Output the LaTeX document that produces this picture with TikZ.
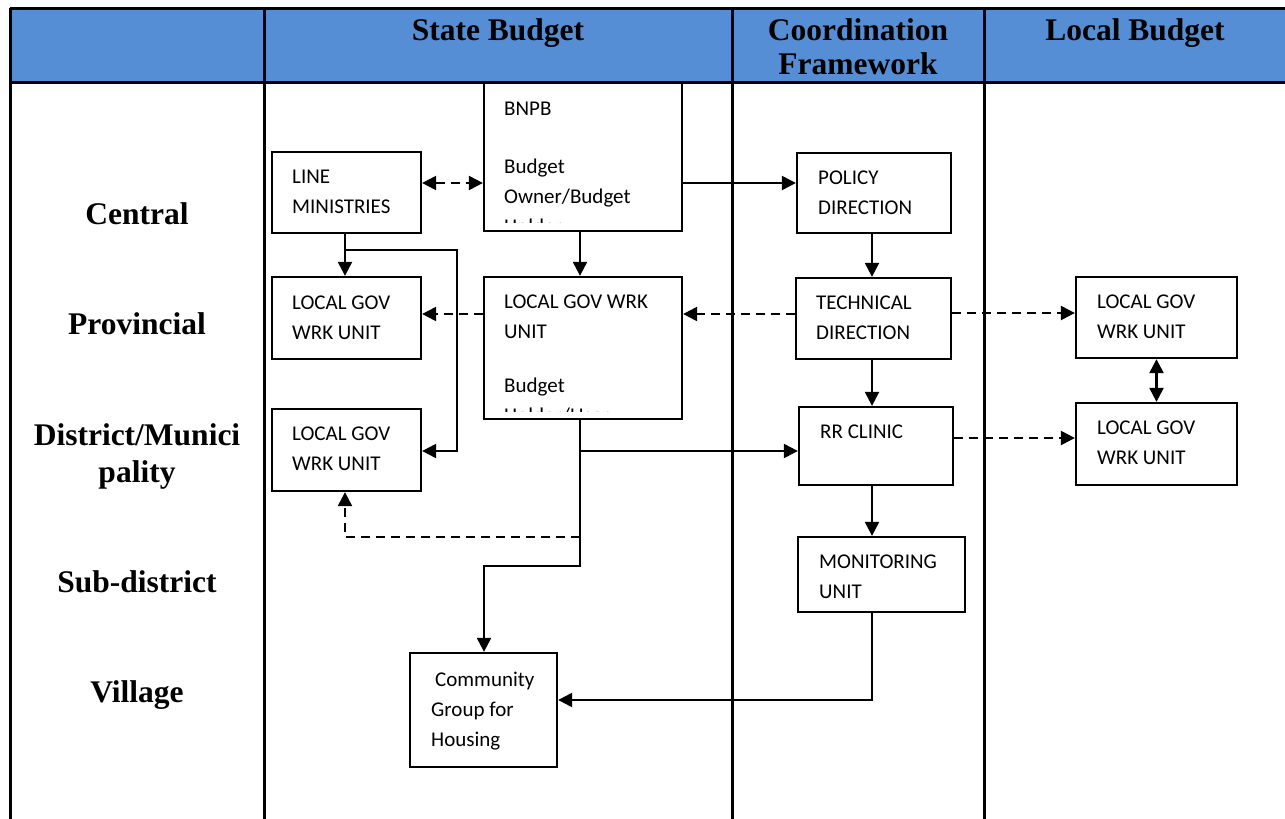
\documentclass[tikz,border=0pt]{standalone}
\usepackage{fontspec}
\setmainfont{Liberation Serif}
\newfontfamily\boxfont{Carlito}
\usetikzlibrary{arrows.meta}
\definecolor{headblue}{RGB}{85,142,213}
\begin{document}
\begin{tikzpicture}[x=1pt,y=-1pt,
  unitbox/.style={draw, line width=2.3pt, inner sep=0pt, rectangle},
  % multi-line texts are placed by the baseline of their last line
  boxtext/.style={font=\boxfont\fontsize{21}{30}\selectfont, align=left, inner sep=0pt, anchor=base west},
  headtext/.style={font=\bfseries\fontsize{31.5}{34}\selectfont, align=center, inner sep=0pt},
  rowtext/.style={font=\bfseries\fontsize{31.5}{37}\selectfont, align=center, inner sep=0pt, anchor=base},
  tableline/.style={line width=3pt},
  link/.style={line width=2.3pt},
  arr/.style={link, -{Triangle[length=14pt,width=14pt]}},
  arrboth/.style={link, {Triangle[length=14pt,width=14pt]}-{Triangle[length=14pt,width=14pt]}},
  dsh/.style={dash pattern=on 9pt off 6pt}]
\useasboundingbox (0,0) rectangle (1285,819);

% header band and table rules
\fill[headblue] (10,8) rectangle (1290,82);
\draw[tableline] (10,8) -- (1290,8);
\draw[tableline] (10,82) -- (1290,82);
\draw[tableline] (10,8) -- (10,825);
\draw[tableline] (264,8) -- (264,825);
\draw[tableline] (732,8) -- (732,825);
\draw[tableline] (984,8) -- (984,825);

% column headings
\node[headtext, anchor=base] (hstate) at (498,40) {State Budget};
\node[headtext, anchor=base] (hcoord) at (858,40) {Coordination};
\node[headtext, anchor=base] (hframe) at (858,74) {Framework};
\node[headtext, anchor=base] (hlocal) at (1135,40) {Local Budget};

% row headings
\node[rowtext] (rcentral) at (137,224) {Central};
\node[rowtext] (rprov) at (137,334) {Provincial};
\node[rowtext] (rdist) at (137,445) {District/Munici};
\node[rowtext] (rdist2) at (137,482) {pality};
\node[rowtext] (rsub) at (137,592) {Sub-district};
\node[rowtext] (rvill) at (137,702) {Village};

% boxes
\node[unitbox, minimum width=149pt, minimum height=81pt] (lm) at (346.5,192.5) {};
\node[unitbox, minimum width=198pt, minimum height=148pt] (bnpb) at (583,157) {};
\node[unitbox, minimum width=154pt, minimum height=80pt] (pol) at (874,193) {};
\node[unitbox, minimum width=149pt, minimum height=82pt] (lgp) at (346.5,318) {};
\node[unitbox, minimum width=198pt, minimum height=142pt] (lgc) at (583,348) {};
\node[unitbox, minimum width=155pt, minimum height=81pt] (tech) at (873.5,318.5) {};
\node[unitbox, minimum width=161pt, minimum height=81pt] (lr1) at (1156.5,317.5) {};
\node[unitbox, minimum width=161pt, minimum height=82pt] (lr2) at (1156.5,444) {};
\node[unitbox, minimum width=149pt, minimum height=82pt] (lgd) at (346.5,450) {};
\node[unitbox, minimum width=154pt, minimum height=78pt] (rr) at (876,446) {};
\node[unitbox, minimum width=167pt, minimum height=75pt] (mon) at (881.5,574.5) {};
\node[unitbox, minimum width=147pt, minimum height=114pt] (com) at (483.5,710) {};

% box texts
\node[boxtext] (lmt) at (292,213) {LINE\\MINISTRIES};
\begin{scope}
  \clip (486,85) rectangle (680,222);
  \node[boxtext] (bnpbt) at (504,233) {BNPB\\[28pt]Budget\\Owner/Budget\\Holder};
\end{scope}
\node[boxtext] (polt) at (818,214) {POLICY\\DIRECTION};
\node[boxtext] (lgpt) at (292,339) {LOCAL GOV\\WRK UNIT};
\begin{scope}
  \clip (486,279) rectangle (680,411);
  \node[boxtext] (lgct) at (504,422) {LOCAL GOV WRK\\UNIT\\[24pt]Budget\\Holder/User};
\end{scope}
\node[boxtext] (techt) at (816,339) {TECHNICAL\\DIRECTION};
\node[boxtext] (lr1t) at (1097,338) {LOCAL GOV\\WRK UNIT};
\node[boxtext] (lr2t) at (1097,464) {LOCAL GOV\\WRK UNIT};
\node[boxtext] (lgdt) at (292,470) {LOCAL GOV\\WRK UNIT};
\node[boxtext] (rrt) at (820,438) {RR CLINIC};
\node[boxtext] (mont) at (819,598) {MONITORING\\UNIT};
\node[boxtext] (comt) at (431,746) {\hspace*{4pt}Community\\Group for\\Housing};

% junction points
\coordinate (lmj) at (345,250);
\coordinate (lgcj) at (580,451);
\coordinate (lgcd) at (580,537);

% central level
\draw[arrboth, dsh] (lm.east |- 0,183) -- (bnpb.west |- 0,183);
\draw[arr] (bnpb.east |- 0,183) -- (pol.west |- 0,183);
\draw[arr] (580,0 |- bnpb.south) -- (580,0 |- lgc.north);
\draw[arr] (345,0 |- lm.south) -- (345,0 |- lgp.north);
\draw[arr] (lmj) -- (457,250) -- (457,451) -- (lgd.east |- 0,451);

% coordination spine
\draw[arr] (872,0 |- pol.south) -- (872,0 |- tech.north);
\draw[arr] (872,0 |- tech.south) -- (872,0 |- rr.north);
\draw[arr] (872,0 |- rr.south) -- (872,0 |- mon.north);
\draw[arr] (872,0 |- mon.south) -- (872,700) -- (com.east |- 0,700);

% provincial level
\draw[arr, dsh] (lgc.west |- 0,314) -- (lgp.east |- 0,314);
\draw[arr, dsh] (tech.west |- 0,314) -- (lgc.east |- 0,314);
\draw[arr, dsh] (tech.east |- 0,313) -- (lr1.west |- 0,313);
\draw[arr, dsh] (rr.east |- 0,438) -- (lr2.west |- 0,438);
\draw[arrboth] (lr1.south) -- (lr2.north);

% flows out of the provincial work unit
\draw[arr] (580,0 |- lgc.south) -- (580,566) -- (484,566) -- (484,0 |- com.north);
\draw[arr] (lgcj) -- (rr.west |- lgcj);
\draw[arr, dsh] (lgcd) -- (345,537) -- (345,0 |- lgd.south);
\end{tikzpicture}
\end{document}
